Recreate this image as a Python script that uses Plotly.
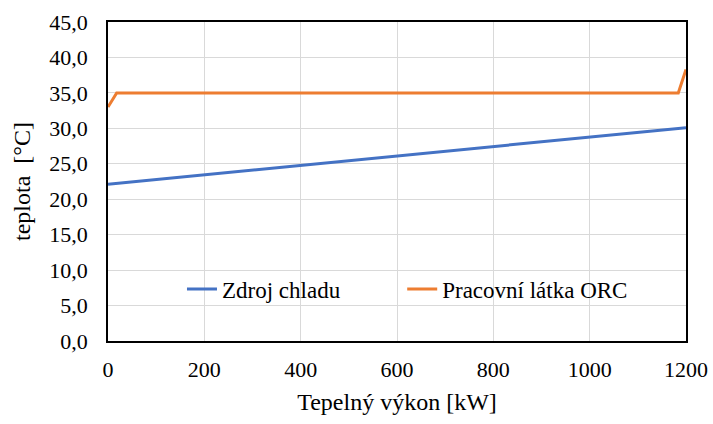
import plotly.graph_objects as go

# Heat duty [kW] and temperatures [°C]
zdroj_x = [0, 1200]
zdroj_t = [22.1, 30.1]

orc_x = [0, 18, 1184, 1200]
orc_t = [33.0, 35.0, 35.0, 38.3]

x_ticks = [0, 200, 400, 600, 800, 1000, 1200]
y_ticks = [0, 5, 10, 15, 20, 25, 30, 35, 40, 45]
y_labels = [f"{v:.1f}".replace(".", ",") for v in y_ticks]

FONT = "Liberation Serif"

fig = go.Figure()
fig.add_trace(go.Scatter(x=zdroj_x, y=zdroj_t, mode="lines", name="Zdroj chladu",
                         line=dict(color="#4472C4", width=3), legend="legend"))
fig.add_trace(go.Scatter(x=orc_x, y=orc_t, mode="lines", name="Pracovní látka ORC",
                         line=dict(color="#ED7D31", width=3), legend="legend2"))

axis_common = dict(showline=True, linecolor="black", linewidth=1.5, mirror=True,
                   showgrid=True, gridcolor="#D9D9D9", gridwidth=1.3, automargin=False,
                   zeroline=False, ticks="", tickfont=dict(family=FONT, size=22, color="black"))

fig.update_xaxes(range=[0, 1200], tickvals=x_ticks, ticklabelstandoff=8,
                 title=dict(text="Tepelný výkon [kW]", font=dict(family=FONT, size=24, color="black"),
                            standoff=12),
                 **axis_common)
fig.update_yaxes(range=[0, 45], tickvals=y_ticks, ticktext=y_labels, ticklabelstandoff=14,
                 title=dict(text="teplota\u00a0\u00a0[°C]", font=dict(family=FONT, size=24, color="black"),
                            standoff=12),
                 **axis_common)

legend_style = dict(orientation="h", xanchor="left", y=0.163, yanchor="middle",
                    bgcolor="rgba(0,0,0,0)", font=dict(family=FONT, size=23, color="black"))

fig.update_layout(
    width=713, height=424,
    font=dict(family=FONT, color="black"),
    margin=dict(l=108, r=27, t=22, b=83, autoexpand=False),
    paper_bgcolor="white", plot_bgcolor="white",
    showlegend=True,
    legend=dict(x=0.128, **legend_style),
    legend2=dict(x=0.509, **legend_style),
)

fig.write_html("out.html")
